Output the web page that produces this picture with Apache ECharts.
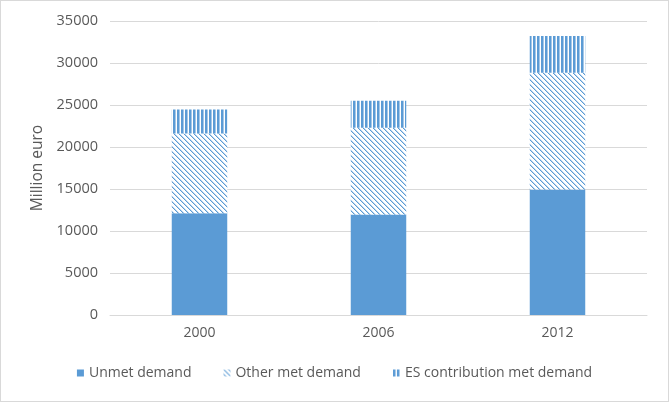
<!DOCTYPE html>
<html><head><meta charset="utf-8">
<script src="https://cdn.jsdelivr.net/npm/echarts@6/dist/echarts.min.js"></script>
<style>
html,body{margin:0;padding:0;background:#fff;}
#c{width:669px;height:402px;box-sizing:border-box;border:1px solid #d9d9d9;}
</style></head>
<body><div id="c"></div>
<script>
const categories = ['2000', '2006', '2012'];
const unmetDemand = [12100, 11950, 14950];
const otherMetDemand = [9500, 10350, 13900];
const esContribution = [2850, 3200, 4350];
const seriesNames = ['Unmet demand', 'Other met demand', 'ES contribution met demand'];

const blue = '#5B9BD5';
function diagPattern(){
  const c = document.createElement('canvas'); c.width = 5; c.height = 5;
  const g = c.getContext('2d');
  g.fillStyle = '#ffffff'; g.fillRect(0,0,5,5);
  g.fillStyle = blue;
  for (let i = 0; i < 5; i++) { g.fillRect(i, i, 1, 1); }
  g.fillStyle = 'rgba(91,155,213,0.4)';
  for (let i = 0; i < 5; i++) { g.fillRect((i+1)%5, i, 1, 1); }
  return c;
}
function vertPattern(){
  const c = document.createElement('canvas'); c.width = 4; c.height = 4;
  const g = c.getContext('2d');
  g.fillStyle = '#ffffff'; g.fillRect(0,0,4,4);
  g.fillStyle = blue; g.fillRect(0,0,2,4);
  g.fillStyle = 'rgba(91,155,213,0.55)'; g.fillRect(2,0,1,4);
  return c;
}
const chart = echarts.init(document.getElementById('c'), null, {renderer:'canvas'});
const font = 'Open Sans';
chart.setOption({
  animation: false,
  grid: {left: 109, right: 21, top: 20, bottom: 86},
  legend: {
    bottom: 16, left: 'center', itemWidth: 7, itemHeight: 7, itemGap: 32,
    icon: 'rect',
    textStyle: {color: '#595959', fontSize: 14, fontFamily: font},
    data: seriesNames
  },
  xAxis: {
    type: 'category', data: categories,
    axisLine: {lineStyle: {color: '#d9d9d9'}},
    axisTick: {show: false},
    axisLabel: {color: '#595959', fontSize: 14, fontFamily: font, margin: 11}
  },
  yAxis: {
    type: 'value', min: 0, max: 35000, interval: 5000,
    name: 'Million euro', nameLocation: 'middle', nameGap: 64, nameRotate: 90,
    nameTextStyle: {color: '#595959', fontSize: 15.5, fontFamily: font},
    axisLine: {show: false}, axisTick: {show: false},
    splitLine: {lineStyle: {color: '#d9d9d9'}},
    axisLabel: {color: '#595959', fontSize: 14.5, fontFamily: font, margin: 12,
      formatter: v => String(v)}
  },
  series: [
    {name: seriesNames[0], type: 'bar', stack: 't', barWidth: '31%', data: unmetDemand,
     itemStyle: {color: blue}},
    {name: seriesNames[1], type: 'bar', stack: 't', data: otherMetDemand,
     itemStyle: {color: {image: diagPattern(), repeat: 'repeat'}}},
    {name: seriesNames[2], type: 'bar', stack: 't', data: esContribution,
     itemStyle: {color: {image: vertPattern(), repeat: 'repeat'}}}
  ]
});
</script></body></html>
